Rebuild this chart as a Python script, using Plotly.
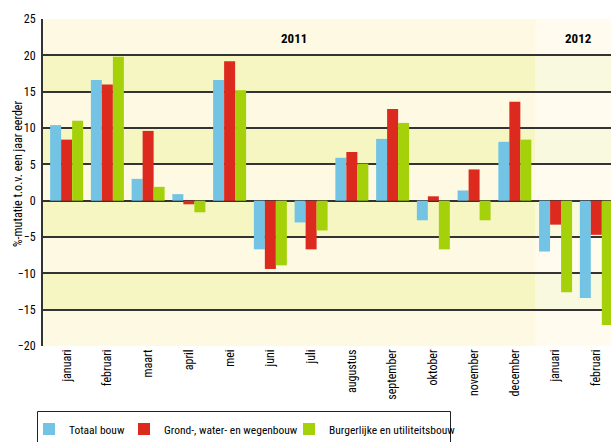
import plotly.graph_objects as go

months = ["januari", "februari", "maart", "april", "mei", "juni", "juli",
          "augustus", "september", "oktober", "november", "december",
          "januari", "februari"]
totaal = [10.4, 16.6, 3.0, 0.9, 16.6, -6.7, -3.0, 5.9, 8.5, -2.7, 1.4, 8.1, -7.0, -13.4]
grond = [8.4, 16.0, 9.6, -0.5, 19.2, -9.4, -6.7, 6.7, 12.6, 0.6, 4.3, 13.6, -3.3, -4.7]
burger = [11.0, 19.8, 1.9, -1.6, 15.2, -8.9, -4.1, 5.1, 10.7, -6.7, -2.7, 8.4, -12.6, -17.1]
series_names = ["Totaal bouw", "Grond-, water- en wegenbouw", "Burgerlijke en utiliteitsbouw"]
colors = ["#73C4E4", "#DC2A1E", "#A5D10A"]
year_labels = ["2011", "2012"]
y_title = "%-mutatie t.o.v. een jaar eerder"

FONT = "Roboto Condensed, Liberation Sans Narrow, sans-serif"

W, H = 611, 442
L, R, T, B = 43, 0, 19, 96
PW, PH = W - L - R, H - T - B


def px(x):
    return (x - L) / PW


def py(y):
    return (H - B - y) / PH


fig = go.Figure()
legend_names = ["legend", "legend2", "legend3"]
legend_x = [29, 124, 289]
for name, vals, c, lg in zip(series_names, [totaal, grond, burger], colors, legend_names):
    fig.add_trace(go.Bar(x=list(range(len(months))), y=vals, name=name, legend=lg,
                         marker=dict(color=c, line=dict(width=0))))

shapes = []
bands = [(20, 25, 0), (15, 20, 1), (10, 15, 0), (5, 10, 1), (0, 5, 0),
         (-5, 0, 1), (-10, -5, 0), (-15, -10, 1), (-20, -15, 0)]
for y0, y1, g in bands:
    shapes.append(dict(type="rect", xref="x", yref="y", x0=-0.6, x1=11.5, y0=y0, y1=y1,
                       fillcolor="#F6F6C3" if g else "#FDF9E3", line=dict(width=0), layer="below"))
    shapes.append(dict(type="rect", xref="x", yref="y", x0=11.5, x1=13.5, y0=y0, y1=y1,
                       fillcolor="#F8F9DF" if g else "#FFFBEF", line=dict(width=0), layer="below"))
# legend frame: open at the bottom, as the original is cut off there
fx0, fx1, fyt, fyb = px(37.5), px(450.5), py(411.5), py(443)
shapes.append(dict(type="path", xref="paper", yref="paper",
                   path=f"M {fx0},{fyb} L {fx0},{fyt} L {fx1},{fyt} L {fx1},{fyb}",
                   line=dict(color="#222222", width=1), layer="above"))

legends = {}
for lg, lx in zip(legend_names, legend_x):
    legends[lg] = dict(x=px(lx), y=py(429), xanchor="left", yanchor="middle",
                       orientation="h", bgcolor="rgba(0,0,0,0)", borderwidth=0,
                       font=dict(size=11.5, family=FONT, color="black"),
                       itemclick=False, itemdoubleclick=False)

fig.update_layout(
    width=W, height=H,
    margin=dict(l=L, r=R, t=T, b=B, autoexpand=False),
    paper_bgcolor="white", plot_bgcolor="#FDF9E3",
    barmode="group", bargap=0.19, bargroupgap=0,
    font=dict(family=FONT, size=12, color="black"),
    shapes=shapes,
    showlegend=True,
    annotations=[
        dict(x=5.58, y=22.3, xref="x", yref="y", text="<b>" + year_labels[0] + "</b>",
             showarrow=False, font=dict(size=13, family=FONT)),
        dict(x=12.57, y=22.3, xref="x", yref="y", text="<b>" + year_labels[1] + "</b>",
             showarrow=False, font=dict(size=13, family=FONT)),
        dict(x=px(18), y=py(174), xref="paper", yref="paper", text=y_title, textangle=-90,
             xanchor="center", yanchor="middle", showarrow=False, font=dict(size=12, family=FONT)),
    ],
    **legends,
)
fig.update_xaxes(range=[-0.58, 13.36], tickvals=list(range(len(months))), ticktext=months,
                 tickangle=-90, showgrid=False, ticks="", tickfont=dict(size=12),
                 showline=False, automargin=False)
fig.update_yaxes(range=[-20, 25], dtick=5, showgrid=True, gridcolor="#333333", gridwidth=2,
                 zeroline=True, zerolinecolor="#333333", zerolinewidth=2,
                 showline=True, linecolor="#333333", linewidth=2,
                 ticks="", tickfont=dict(size=12), ticklabelstandoff=3, automargin=False)
fig.write_html("out.html", config={"displayModeBar": False},
               post_script="document.body.style.margin='0';")
